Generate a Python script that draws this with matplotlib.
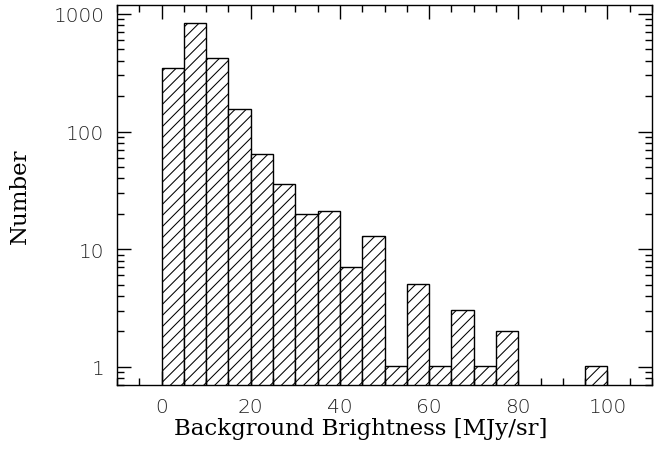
import numpy as np
import matplotlib
matplotlib.use('Agg')
import matplotlib.pyplot as plt
from matplotlib.ticker import MultipleLocator, LogLocator, FixedFormatter, FixedLocator, NullFormatter

# histogram of background brightness, bins of 5 MJy/sr
bin_left = [0, 5, 10, 15, 20, 25, 30, 35, 40, 45, 50, 55, 60, 65, 70, 75, 80, 85, 90, 95]
counts = [348, 835, 421, 155, 64, 36, 20, 21, 7, 13, 1, 5, 1, 3, 1, 2, 0, 0, 0, 1]
bin_width = 5

plt.rcParams['hatch.linewidth'] = 0.75

fig = plt.figure(figsize=(6.59, 4.56), dpi=100)
ax = fig.add_axes([117/659, 1-386/456, (652-117)/659, (386-6)/456])

for x, c in zip(bin_left, counts):
	if c > 0:
		ax.bar(x, c, width=bin_width, align='edge', bottom=0.01, facecolor='white',
			edgecolor='black', linewidth=1.0, hatch='///')

ax.set_yscale('log')
ax.set_xlim(-10, 110)
ax.set_ylim(0.7, 1190)

ax.xaxis.set_major_locator(MultipleLocator(20))
ax.xaxis.set_minor_locator(MultipleLocator(5))
ax.yaxis.set_major_locator(FixedLocator([1, 10, 100, 1000]))
ax.yaxis.set_major_formatter(FixedFormatter(['1', '10', '100', '1000']))
ax.yaxis.set_minor_locator(LogLocator(base=10, subs=np.arange(2, 10)))
ax.yaxis.set_minor_formatter(NullFormatter())

ax.tick_params(which='both', direction='in', top=True, right=True, width=1)
ax.tick_params(which='major', length=10, labelsize=14.5, pad=9)
ax.tick_params(which='minor', length=5)
for lab in ax.get_xticklabels() + ax.get_yticklabels():
	lab.set_fontfamily('DejaVu Sans')
	lab.set_fontweight('light')
	lab.set_color('#222222')

for sp in ax.spines.values():
	sp.set_linewidth(1.0)

ax.set_xlabel('Background Brightness [MJy/sr]', fontsize=16.5, family='DejaVu Serif')
ax.xaxis.set_label_coords(0.455, -0.083)
ax.set_ylabel('Number', fontsize=16.5, family='DejaVu Serif', labelpad=16)

fig.savefig('out.png', dpi=100)
